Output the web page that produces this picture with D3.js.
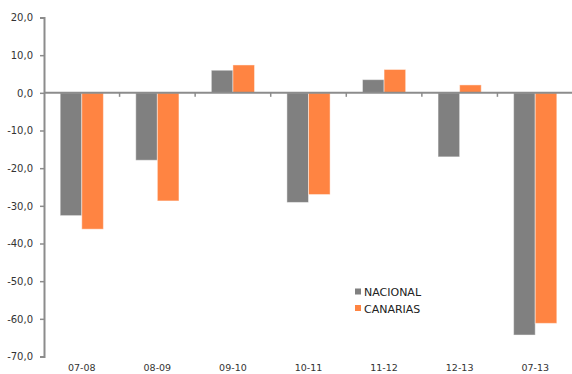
<!DOCTYPE html>
<html><head><meta charset="utf-8">
<script src="https://cdn.jsdelivr.net/npm/d3@7"></script>
<style>body{margin:0;background:#fff;overflow:hidden}svg{display:block}</style>
</head><body>
<svg id="c" width="572" height="374"></svg>
<script>
const categories = ["07-08","08-09","09-10","10-11","11-12","12-13","07-13"];
const seriesNames = ["NACIONAL","CANARIAS"];
const nacional = [-32.6,-17.9,6.0,-29.1,3.5,-17.0,-64.3];
const canarias = [-36.2,-28.7,7.4,-27.0,6.2,2.1,-61.2];
const yTicks = [20,10,0,-10,-20,-30,-40,-50,-60,-70];
const colors = ["#808080","#FF8442"];

const svg = d3.select("#c");
const x = d3.scaleBand().domain(categories).range([44,573]).paddingInner(0).paddingOuter(0);
const xs = d3.scaleBand().domain(seriesNames).range([0,x.bandwidth()]).paddingInner(0).paddingOuter(0.75);
const y = d3.scaleLinear().domain([-70,20]).range([356.5,17.5]);
const fmt = d3.formatLocale({decimal:",",thousands:".",grouping:[3],currency:["","€"],minus:"-"}).format(".1f");

// bars
const data = [nacional, canarias];
categories.forEach((c,i)=>{
  seriesNames.forEach((s,j)=>{
    const v = data[j][i];
    svg.append("rect")
      .attr("x", x(c)+xs(s))
      .attr("y", y(Math.max(0,v)))
      .attr("width", xs.bandwidth())
      .attr("height", Math.abs(y(v)-y(0)))
      .attr("fill", colors[j])
      .attr("stroke", "#ffffff").attr("stroke-opacity",0.45).attr("stroke-width",1);
  });
});

// y axis
const ya = svg.append("g").attr("transform","translate(44,0)")
  .call(d3.axisLeft(y).tickValues(yTicks).tickFormat(fmt).tickSize(4).tickPadding(7));
ya.select(".domain").attr("stroke","#8c8c8c").attr("stroke-width",2);
ya.selectAll(".tick line").attr("stroke","#8c8c8c").attr("stroke-width",1.5);
ya.selectAll("text").attr("font-family","DejaVu Sans, Verdana, sans-serif").attr("font-size",10).attr("fill","#333");

// zero line with category boundary ticks
svg.append("line").attr("x1",44).attr("x2",572).attr("y1",y(0)).attr("y2",y(0))
  .attr("stroke","#8c8c8c").attr("stroke-width",2);
categories.slice(1).forEach(c=>{
  svg.append("line").attr("x1",x(c)).attr("x2",x(c)).attr("y1",y(0)).attr("y2",y(0)+4)
    .attr("stroke","#8c8c8c").attr("stroke-width",1.5);
});

// category labels
svg.selectAll(".cat").data(categories).enter().append("text")
  .attr("x", d=>x(d)+x.bandwidth()/2).attr("y",371)
  .attr("text-anchor","middle")
  .attr("font-family","DejaVu Sans, Verdana, sans-serif").attr("font-size",9.5).attr("fill","#333")
  .text(d=>d);

// legend
seriesNames.forEach((s,j)=>{
  const ly = 292 + j*16.5;
  svg.append("rect").attr("x",355).attr("y",ly-3.5).attr("width",6).attr("height",6).attr("fill",colors[j]);
  svg.append("text").attr("x",364).attr("y",ly+4)
    .attr("font-family","DejaVu Sans, Verdana, sans-serif").attr("font-size",11).attr("fill","#222")
    .text(s);
});
</script>
</body></html>
